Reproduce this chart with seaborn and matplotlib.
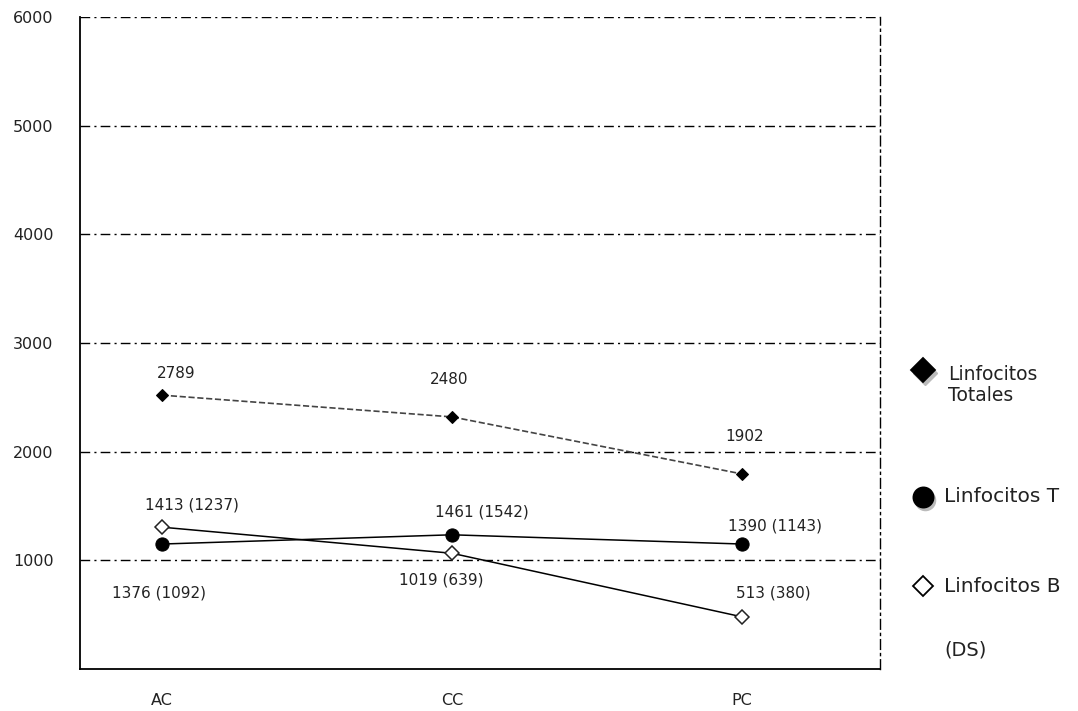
import matplotlib
matplotlib.use("Agg")
import matplotlib.pyplot as plt
from matplotlib.lines import Line2D
import seaborn as sns

# data
categories = ["AC", "CC", "PC"]
totales = [2520, 2320, 1795]
linf_t = [1150, 1235, 1150]
linf_b = [1305, 1065, 480]

totales_labels = ["2789", "2480", "1902"]
linf_t_labels = ["1376 (1092)", "1461 (1542)", "1390 (1143)"]
linf_b_labels = ["1413 (1237)", "1019 (639)", "513 (380)"]

y_ticks = [1000, 2000, 3000, 4000, 5000, 6000]

sns.set_theme(style="white")
plt.rcParams['font.family'] = ['DejaVu Sans']

fig = plt.figure(figsize=(10.78, 7.11), dpi=100)
ax = fig.add_axes([80 / 1078, 42 / 711, 800 / 1078, 652 / 711])

dashdot = (0, (7, 3, 1.5, 3))

sns.lineplot(x=categories, y=totales, ax=ax, color="#444444", linestyle="--",
             linewidth=1.2, marker="D", markersize=6, markerfacecolor="black",
             markeredgecolor="black", sort=False)
sns.lineplot(x=categories, y=linf_t, ax=ax, color="black", linewidth=1.1,
             marker="o", markersize=9.5, markerfacecolor="black",
             markeredgecolor="black", sort=False)
sns.lineplot(x=categories, y=linf_b, ax=ax, color="black", linewidth=1.1,
             marker="D", markersize=7, markerfacecolor="white",
             markeredgecolor="#222222", markeredgewidth=1.1, sort=False)

# value labels, offsets in pixels
tot_off = [(14, 22), (-3, 37), (3, 37)]
t_off = [(-3, -49), (30, 23), (33, 18)]
b_off = [(30, 22), (-11, -27), (31, 24)]
for vals, labs, offs in [(totales, totales_labels, tot_off),
                         (linf_t, linf_t_labels, t_off),
                         (linf_b, linf_b_labels, b_off)]:
    for i, (v, lab) in enumerate(zip(vals, labs)):
        ax.annotate(lab, (i, v), xytext=offs[i], textcoords="offset pixels",
                    ha="center", va="center", fontsize=11, color="#222222")

ax.set_ylim(0, 6000)
ax.set_xlim(-0.283, 2.476)
ax.set_yticks(y_ticks)
ax.set_xticks(range(len(categories)))
ax.set_xticklabels(categories)
ax.tick_params(axis="both", length=0, labelsize=11.5, colors="#222222")
ax.tick_params(axis="y", pad=19)
ax.tick_params(axis="x", pad=17)

for y in y_ticks:
    ax.axhline(y, color="black", linewidth=1, linestyle=dashdot, zorder=0)

for side in ["left", "bottom"]:
    ax.spines[side].set_color("black")
    ax.spines[side].set_linewidth(1.3)
ax.spines["top"].set_visible(False)
ax.spines["right"].set_color("black")
ax.spines["right"].set_linewidth(1)
ax.spines["right"].set_linestyle(dashdot)

# legend drawn by hand on the right
def fx(px):
    return px / 1078

def fy(py):
    return 1 - py / 711

legend_items = [
    ("D", 12, "black", "Linfocitos\nTotales", 370, 385, 948),
    ("o", 14.5, "black", "Linfocitos T", 497, 497, 944),
    ("D", 10, "white", "Linfocitos B", 586, 586, 944),
]
for marker, size, face, text, my, ty, tx in legend_items:
    if face == "black":
        fig.add_artist(Line2D([fx(925)], [fy(my + 3)], marker=marker, markersize=size,
                              color="#bbbbbb", markeredgecolor="#bbbbbb", linestyle=""))
    fig.add_artist(Line2D([fx(923)], [fy(my)], marker=marker, markersize=size,
                          markerfacecolor=face, markeredgecolor="black",
                          markeredgewidth=1.3, linestyle=""))
    fs = 13.5 if "\n" in text else 14.5
    fig.text(fx(tx), fy(ty), text, fontsize=fs, va="center", ha="left",
             color="#222222", linespacing=1.15)
fig.text(fx(944), fy(650), "(DS)", fontsize=14, va="center", ha="left", color="#222222")

fig.savefig("out.png", dpi=100, facecolor="white")
